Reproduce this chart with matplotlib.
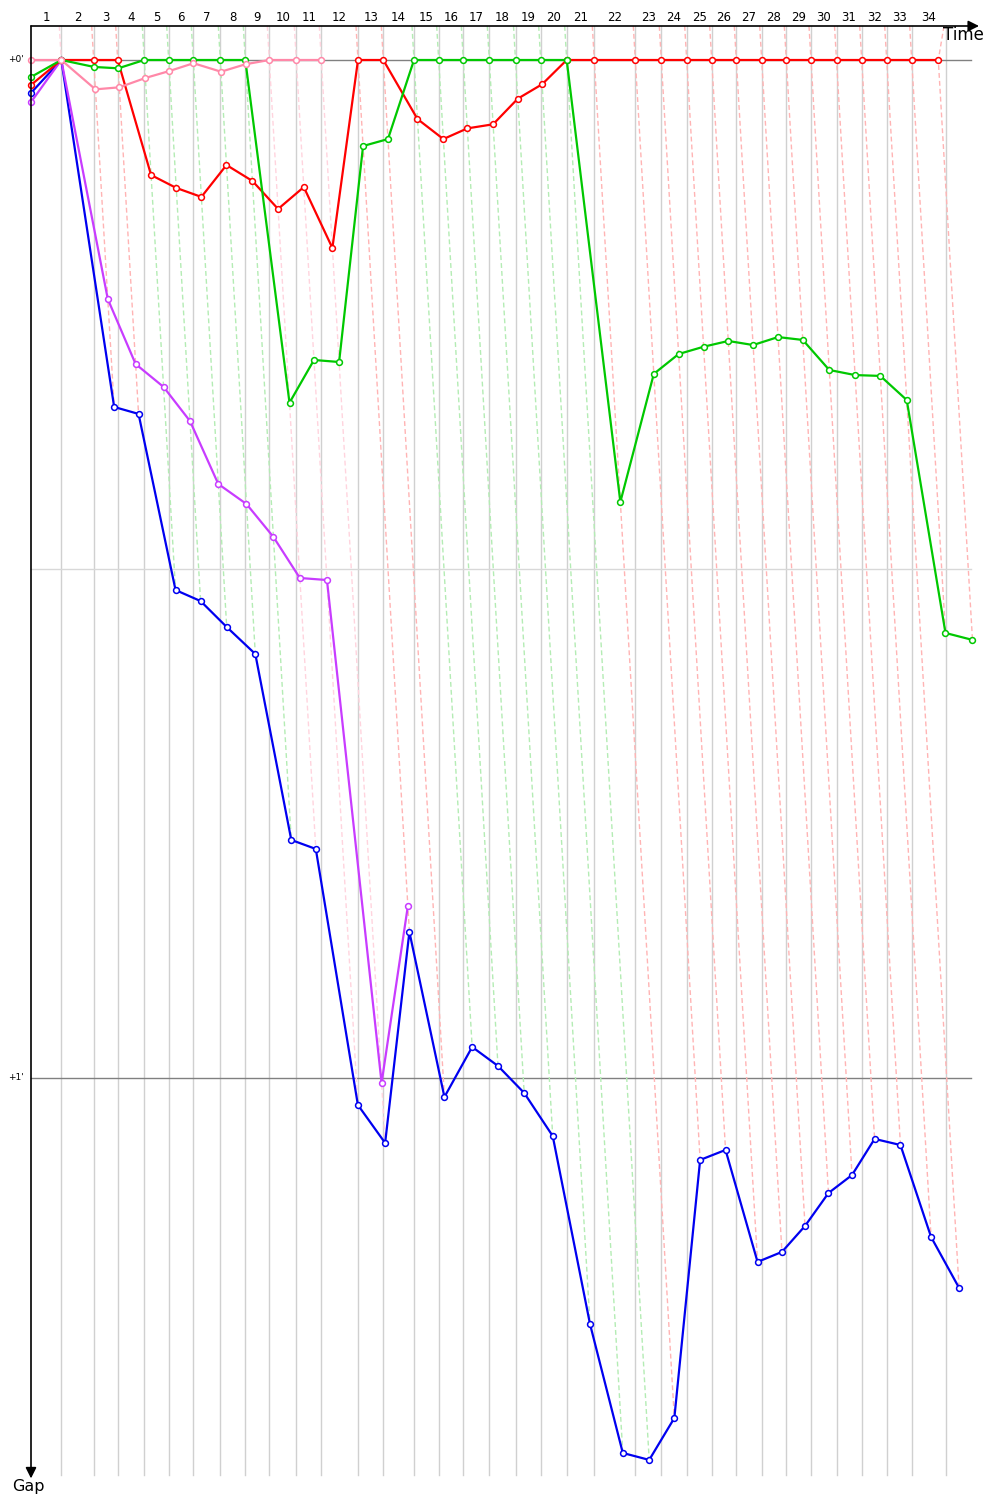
import matplotlib

matplotlib.use("Agg")
import matplotlib.pyplot as plt

# leader lap end times (s), laps 1..34
lap_end = [30.3, 62.7, 86.7, 113.3, 137.7, 162.3, 189.3, 214.3, 238.3, 265.3,
           290.3, 327.0, 352.3, 383.0, 407.7, 432.3, 458.3, 484.5, 509.7, 535.7,
           563.3, 604.3, 630.3, 655.7, 680.7, 705.3, 730.7, 755.3, 780.0, 805.5,
           830.7, 855.7, 880.7, 907.3]
finish_time = 915.0
lap_leader = (["pink"] + ["red"] * 2 + ["green"] * 5 + ["pink"] * 3 + ["red"] * 2
              + ["green"] * 7 + ["red"] * 14)

# gap to leader (s) at start and after each lap
start_gap = {"red": 1.47, "green": 1.0, "pink": 0.0, "purple": 2.48, "blue": 1.94}
red_gap = [0, 0, 0, 6.78, 7.54, 8.07, 6.19, 7.13, 8.78, 7.49, 11.08, 0, 0,
           3.48, 4.66, 4.03, 3.79, 2.28, 1.43, 0,
           0, 0, 0, 0, 0, 0, 0, 0, 0, 0, 0, 0, 0, 0]
green_gap = [0, 0.41, 0.49, 0, 0, 0, 0, 0, 20.2, 17.68, 17.8, 5.07, 4.66,
             0, 0, 0, 0, 0, 0, 0,
             26.05, 18.5, 17.33, 16.9, 16.56, 16.8, 16.33, 16.5, 18.27, 18.57,
             18.62, 20.04, 33.77, 34.18]
pink_gap = [0, 1.73, 1.61, 1.06, 0.65, 0.19, 0.69, 0.25, 0, 0, 0]
purple_gap = [0, 14.09, 17.92, 19.27, 21.28, 24.99, 26.17, 28.11, 30.53, 30.65,
              60.29, 49.86]
blue_gap = [0, 20.45, 20.86, 31.24, 31.89, 33.42, 35.01, 45.97, 46.5, 61.59,
            63.83, 51.39, 61.12, 58.17, 59.29, 60.88, 63.42, 74.5, 82.1, 82.51,
            80.04, 64.83, 64.24, 70.84, 70.25, 68.72, 66.78, 65.72, 63.59, 63.95,
            69.37, 72.37]

colors = {"red": "#ff0000", "green": "#00c800", "pink": "#ff88a8",
          "purple": "#c83cff", "blue": "#0000f0"}
dash_colors = {"red": "#ffb4b4", "green": "#b4ecb4", "pink": "#ffd4de"}

PX_PER_GAP = 1018 / 60.0
gap_top = -60 / PX_PER_GAP
gap_bottom = 1440 / PX_PER_GAP
axis_gap = -34 / PX_PER_GAP
line_bottom = 1415 / PX_PER_GAP

cars = [("blue", blue_gap), ("purple", purple_gap), ("red", red_gap),
        ("green", green_gap), ("pink", pink_gap)]
car_times = {name: [lap_end[i] + g for i, g in enumerate(gaps)] for name, gaps in cars}

fig = plt.figure(figsize=(10, 15), dpi=100)
ax = fig.add_axes([0, 0, 1, 1])
ax.set_xlim(-31, 969)
ax.set_ylim(gap_bottom, gap_top)
ax.axis("off")

# lap grid
grid_times = lap_end[:-1] + [finish_time]
for t in grid_times:
    ax.plot([t, t], [axis_gap, line_bottom], color="#d0d0d0", lw=1.0, zorder=1)

# dashed lap lines: from the time axis through every car on that lap
for k, who in enumerate(lap_leader):
    pts = sorted((g[k], car_times[name][k]) for name, g in cars if len(g) > k)
    xs = [grid_times[k] + axis_gap] + [p[1] for p in pts]
    ys = [axis_gap] + [p[0] for p in pts]
    ax.plot(xs, ys, color=dash_colors[who], lw=1.0, ls=(0, (3.5, 2.2)), zorder=2)

ax.plot([0, 940], [0, 0], color="#808080", lw=1.0, zorder=1)
ax.plot([0, 940], [30, 30], color="#d8d8d8", lw=1.0, zorder=1)
ax.plot([0, 940], [60, 60], color="#808080", lw=1.0, zorder=1)

# cars
for z, (name, gaps) in enumerate(cars):
    xs = [0] + car_times[name]
    ys = [start_gap[name]] + gaps
    ax.plot(xs, ys, color=colors[name], lw=1.6, marker="o", ms=4.2,
            mfc="white", mec=colors[name], mew=1.1, zorder=5 + z)

# axes with arrows
ax.annotate("", xy=(948, axis_gap), xytext=(0, axis_gap),
            arrowprops=dict(arrowstyle="-|>", color="black", lw=1.2,
                            mutation_scale=16, shrinkA=0, shrinkB=0), zorder=20)
ax.annotate("", xy=(0, 83.6), xytext=(0, axis_gap),
            arrowprops=dict(arrowstyle="-|>", color="black", lw=1.2,
                            mutation_scale=16, shrinkA=0, shrinkB=0), zorder=20)

bounds = [0.0] + grid_times
for k in range(len(lap_end)):
    ax.text((bounds[k] + bounds[k + 1]) / 2, -2.5, str(k + 1), ha="center",
            va="center", fontsize=8.5)

ax.text(912, -1.5, "Time", ha="left", va="center", fontsize=12)
ax.text(-19, 84.05, "Gap", ha="left", va="center", fontsize=11.5)
ax.text(-7, 0, "+0'", ha="right", va="center", fontsize=6.5)
ax.text(-7, 60, "+1'", ha="right", va="center", fontsize=6.5)

fig.savefig("out.png", dpi=100)
